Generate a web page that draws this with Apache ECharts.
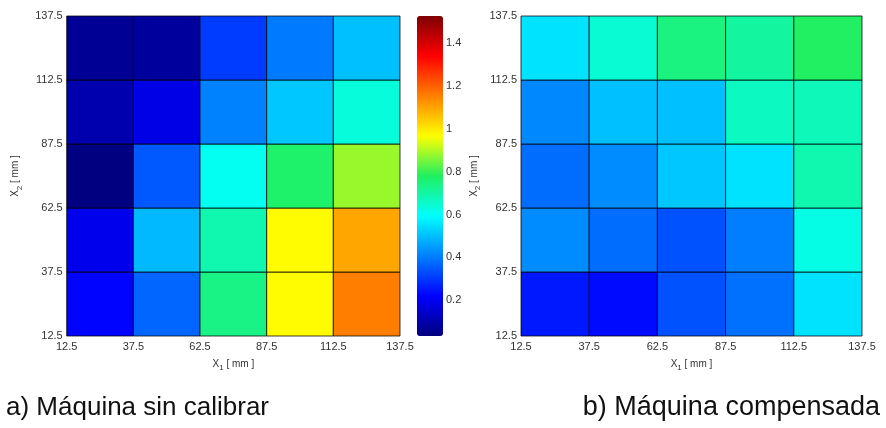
<!DOCTYPE html>
<html>
<head>
<meta charset="utf-8">
<script src="https://cdn.jsdelivr.net/npm/echarts@6/dist/echarts.min.js"></script>
<style>
html,body{margin:0;padding:0;background:#fff;}
#chart{width:886px;height:428px;}
</style>
</head>
<body>
<div id="chart"></div>
<script>
// ---- data ----
const xCenters = [25, 50, 75, 100, 125];          // X1 cell centres [mm]
const yCenters = [25, 50, 75, 100, 125];          // X2 cell centres [mm]
const axisTicks = [12.5, 37.5, 62.5, 87.5, 112.5, 137.5];
// rows from X2 = 25 (bottom) to X2 = 125 (top)
const uncalibratedRows = [
  [0.22, 0.36, 0.72, 0.95, 1.13],
  [0.19, 0.48, 0.67, 0.95, 1.07],
  [0.035, 0.34, 0.595, 0.75, 0.86],
  [0.10, 0.18, 0.40, 0.50, 0.62],
  [0.065, 0.075, 0.30, 0.39, 0.49]
];
const compensatedRows = [
  [0.25, 0.23, 0.33, 0.375, 0.54],
  [0.415, 0.37, 0.33, 0.395, 0.61],
  [0.37, 0.415, 0.50, 0.54, 0.67],
  [0.41, 0.49, 0.49, 0.65, 0.66],
  [0.54, 0.63, 0.725, 0.69, 0.76]
];
const colorMin = 0.033;
const colorMax = 1.491;
const colorbarTicks = [0.2, 0.4, 0.6, 0.8, 1, 1.2, 1.4];
const captionA = 'a) Máquina sin calibrar';
const captionB = 'b) Máquina compensada';

// ---- build ----
function toTriples(rows) {
  const out = [];
  rows.forEach((row, j) => row.forEach((v, i) => out.push([xCenters[i], yCenters[j], v])));
  return out;
}
const halfX = (xCenters[1] - xCenters[0]) / 2;
const halfY = (yCenters[1] - yCenters[0]) / 2;
function renderCell(params, api) {
  const x = api.value(0), y = api.value(1);
  const p1 = api.coord([x - halfX, y + halfY]);
  const p2 = api.coord([x + halfX, y - halfY]);
  return {
    type: 'rect',
    shape: {x: p1[0], y: p1[1], width: p2[0] - p1[0], height: p2[1] - p1[1]},
    style: {fill: api.visual('color'), stroke: 'rgba(0,0,0,0.75)', lineWidth: 1}
  };
}
const FONT = 'Liberation Sans, Arial, sans-serif';
const labelStyle = {color: '#333', fontSize: 11, fontFamily: FONT};
const nameRich = {
  s: {fontSize: 8, fontFamily: FONT, color: '#333', verticalAlign: 'bottom', lineHeight: 16}
};
function mkX(gridIndex) {
  return {
    type: 'value', gridIndex, min: axisTicks[0], max: axisTicks[axisTicks.length - 1], interval: 25,
    axisLine: {show: false}, axisTick: {show: false}, splitLine: {show: false},
    axisLabel: Object.assign({margin: 5}, labelStyle),
    name: 'X{s|1} [ mm ]', nameLocation: 'middle', nameGap: 20,
    nameTextStyle: {color: '#333', fontSize: 10, fontFamily: FONT, rich: nameRich}
  };
}
function mkY(gridIndex, gap) {
  return {
    type: 'value', gridIndex, min: axisTicks[0], max: axisTicks[axisTicks.length - 1], interval: 25,
    axisLine: {show: false}, axisTick: {show: false}, splitLine: {show: false},
    axisLabel: Object.assign({margin: 4}, labelStyle),
    name: 'X{s|2} [ mm ]', nameLocation: 'middle', nameGap: gap, nameRotate: 90,
    nameTextStyle: {color: '#333', fontSize: 10, fontFamily: FONT, rich: nameRich}
  };
}

const chart = echarts.init(document.getElementById('chart'), null, {renderer: 'canvas'});
chart.setOption({
  animation: false,
  backgroundColor: '#fff',
  title: [
    {text: captionA, left: 1, top: 390, textStyle: {fontSize: 26, fontWeight: 'normal', color: '#111', fontFamily: FONT}},
    {text: captionB, right: 1, top: 389, textStyle: {fontSize: 27, fontWeight: 'normal', color: '#111', fontFamily: FONT}}
  ],
  grid: [
    {left: 66.7, top: 16, width: 333.3, height: 320},
    {left: 521, top: 16, width: 341, height: 320},
    {left: 417, top: -7.9, width: 26, height: 351.1}
  ],
  xAxis: [mkX(0), mkX(1),
    {type: 'value', gridIndex: 2, show: false, min: 0, max: 1}],
  yAxis: [mkY(0, 43), mkY(1, 39),
    {type: 'value', gridIndex: 2, position: 'right', min: 0, max: 1.6, interval: 0.2,
     axisLine: {show: false}, splitLine: {show: false}, axisTick: {show: false},
     axisLabel: Object.assign({margin: 3, showMinLabel: false, showMaxLabel: false,
       formatter: v => colorbarTicks.some(t => Math.abs(t - v) < 1e-6) ? String(Math.round(v * 10) / 10) : ''}, labelStyle)}],
  visualMap: {
    type: 'continuous', min: colorMin, max: colorMax, dimension: 2,
    seriesIndex: [0, 1], calculable: false, realtime: false, hoverLink: false,
    orient: 'vertical', left: 417, top: 16, padding: 0,
    itemWidth: 26, itemHeight: 320,
    inRange: {color: ['#00007f', '#0000ff', '#0080ff', '#00ffff', '#20f060', '#ffff00', '#ff8000', '#ff0000', '#800000']}
  },
  series: [
    {type: 'custom', xAxisIndex: 0, yAxisIndex: 0, renderItem: renderCell, encode: {x: 0, y: 1}, data: toTriples(uncalibratedRows)},
    {type: 'custom', xAxisIndex: 1, yAxisIndex: 1, renderItem: renderCell, encode: {x: 0, y: 1}, data: toTriples(compensatedRows)}
  ]
});
</script>
</body>
</html>
